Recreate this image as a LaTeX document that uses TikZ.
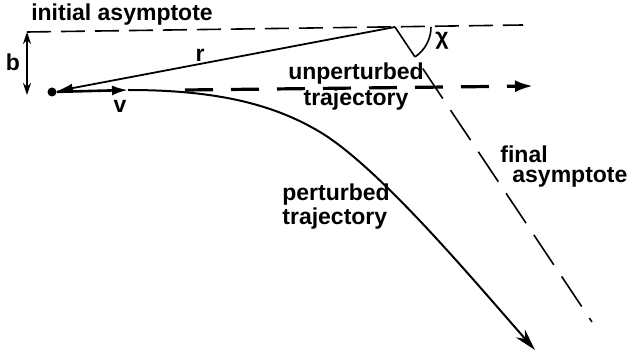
\documentclass[tikz,border=0pt]{standalone}
\usepackage{fontspec}
\setmainfont{Liberation Sans}
\usetikzlibrary{arrows.meta}

\begin{document}
\begin{tikzpicture}[x=0.5pt,y=-0.5pt,
  lbl/.style={font=\fontsize{11.5}{12}\selectfont\bfseries,inner sep=0pt},
  asymline/.style={line width=0.8pt,dash pattern=on 12pt off 5pt},
  finalline/.style={line width=0.8pt,dash pattern=on 18pt off 7pt},
  unpline/.style={line width=1.6pt,dash pattern=on 14pt off 9pt,-{Latex[length=9pt,width=6pt]}},
  trajline/.style={line width=1pt,-{Stealth[length=11pt,width=6pt]}}]
\useasboundingbox (0,0) rectangle (630,352);

\coordinate (bcorner) at (27,32);
\coordinate (bfoot) at (27,95);
\coordinate (asymend) at (523,25);
\coordinate (vertex) at (395,27);
\coordinate (finalend) at (592,322);
\coordinate (vtip) at (128,90);
\coordinate (upstart) at (185,90);
\coordinate (upend) at (533,86);
\coordinate (seam) at (320,132);
\coordinate (trajend) at (535,350);
\node[circle,fill,inner sep=0pt,minimum size=4.5pt] (dot) at (52,92) {};

\draw[asymline] (bcorner) -- (asymend);
\draw[line width=0.7pt,{Stealth[length=6pt,width=4pt]}-{Stealth[length=6pt,width=4pt]}] (bcorner) -- (bfoot);
\draw[line width=0.9pt,-{Latex[length=8pt,width=4.5pt]}] (vertex) -- (dot);
\draw[line width=1.3pt,-{Latex[length=8pt,width=5pt]}] (dot) -- (vtip);
\draw[unpline] (upstart) -- (upend);
\draw[finalline] (vertex) -- (finalend);
\draw[line width=0.8pt] (vertex) ++(-56:18pt) arc[start angle=-56,end angle=0,radius=18pt];
\draw[trajline] (vtip) .. controls (210,90) and (270,102) .. (seam)
  .. controls (380,168) and (475,282) .. (trajend);

\node[lbl] (initlbl) at (122,15) {initial asymptote};
\node[lbl] (blbl) at (13,62) {b};
\node[lbl] (rlbl) at (200,55) {r};
\node[lbl] (vlbl) at (120,106) {v};
\node[lbl] (chilbl) at (442,41) {χ};
\node[lbl,align=center] (unplbl) at (356,87) {unperturbed\\[1pt]trajectory};
\node[lbl,align=left,anchor=west] (perlbl) at (282,207) {perturbed\\trajectory};
\node[lbl,align=left,anchor=west] (finlbl) at (500,167) {final\\[-2pt]\hspace*{6pt}asymptote};
\end{tikzpicture}
\end{document}
